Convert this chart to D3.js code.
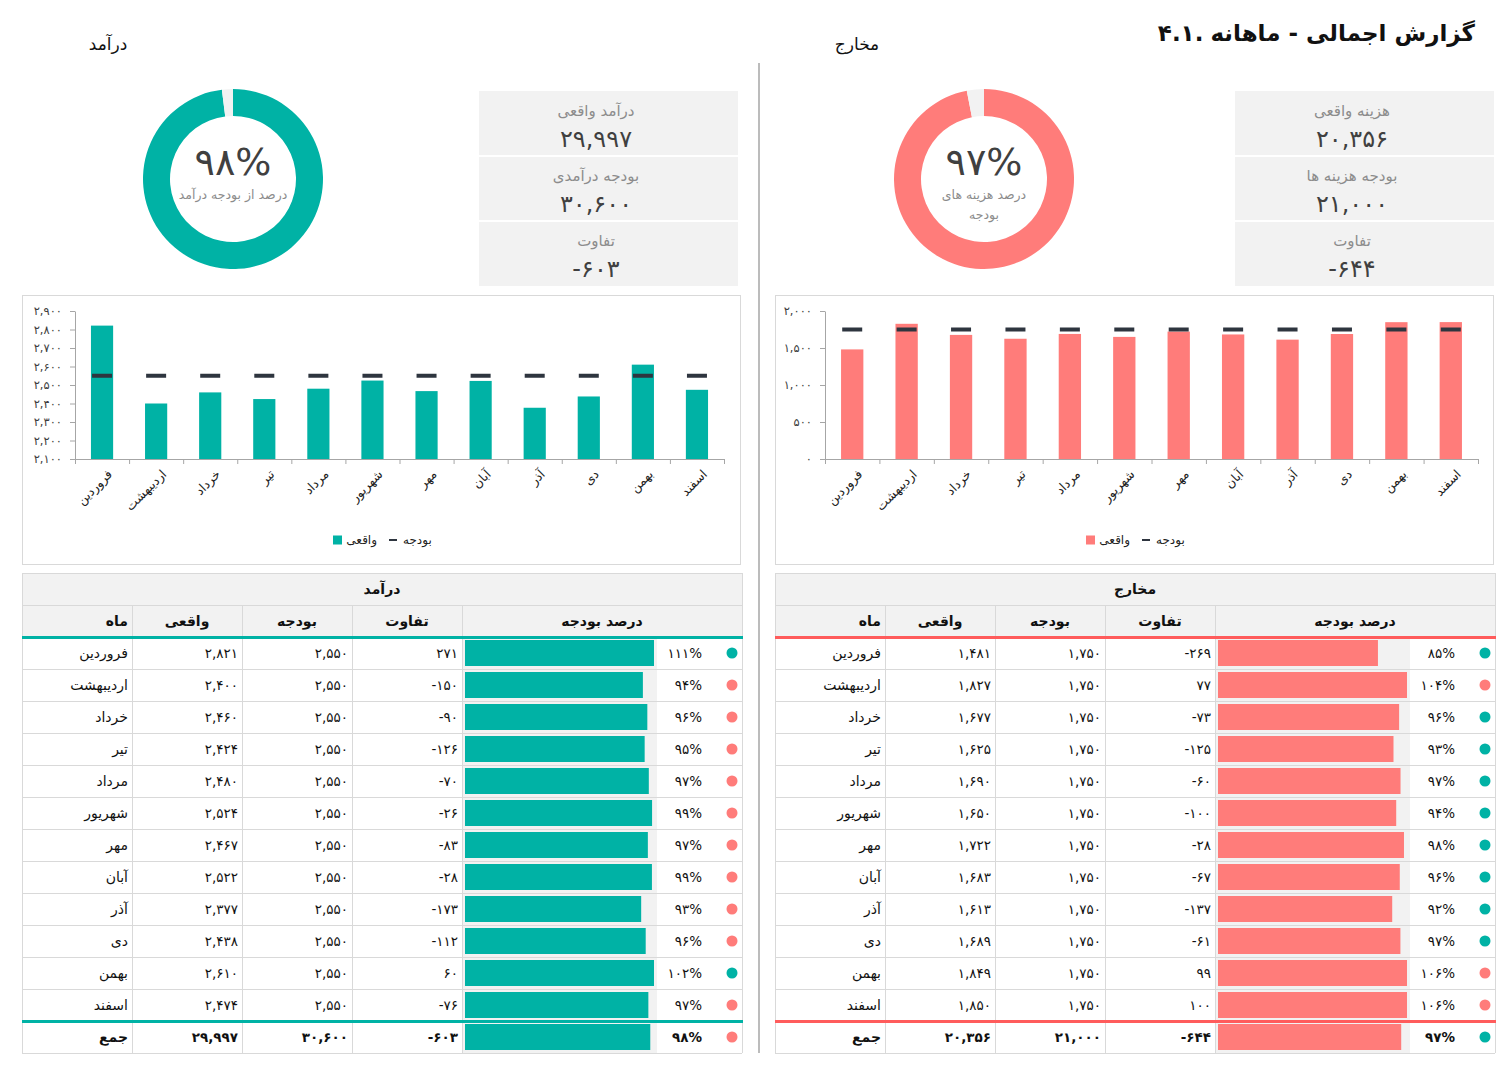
<!DOCTYPE html>
<html>
<head>
<meta charset="utf-8">
<script src="https://cdn.jsdelivr.net/npm/d3@7"></script>
<style>
  body { margin: 0; background: #fff; }
  svg { display: block; font-family: "DejaVu Sans", sans-serif; }
</style>
</head>
<body>
<svg id="dash" width="1510" height="1072"></svg>
<script>
// ---- data ----
const months = ["فروردین", "اردیبهشت", "خرداد", "تیر", "مرداد", "شهریور", "مهر", "آبان", "آذر", "دی", "بهمن", "اسفند"];
const incomeActual = [2821, 2400, 2460, 2424, 2480, 2524, 2467, 2522, 2377, 2438, 2610, 2474];
const incomeBudget = [2550, 2550, 2550, 2550, 2550, 2550, 2550, 2550, 2550, 2550, 2550, 2550];
const expenseActual = [1481, 1827, 1677, 1625, 1690, 1650, 1722, 1683, 1613, 1689, 1849, 1850];
const expenseBudget = [1750, 1750, 1750, 1750, 1750, 1750, 1750, 1750, 1750, 1750, 1750, 1750];
const incomeTicks = [2100, 2200, 2300, 2400, 2500, 2600, 2700, 2800, 2900];
const expenseTicks = [0, 500, 1000, 1500, 2000];

const titleText = "گزارش اجمالی - ماهانه";
const titleNum = "۴.۱.";
const colHeads = ["ماه", "واقعی", "بودجه", "تفاوت", "درصد بودجه"];

const TEAL = "#00b2a5", SALMON = "#ff7c7a", DARK = "#2e353f", GRID = "#d9d9d9", PANEL = "#f2f2f2";

const fa = s => String(s).replace(/[0-9]/g, d => "۰۱۲۳۴۵۶۷۸۹"[+d]);
const num = v => (v < 0 ? "-" : "") + fa(d3.format(",")(Math.abs(v)));
const pctTxt = p => fa(Math.round(p * 100)) + "%";

const panels = [
  { name: "درآمد", actual: incomeActual, budget: incomeBudget, color: TEAL, line: TEAL,
    ticks: incomeTicks, labelX: 108, donutX: 233, kpiX: 479, chartX: 22, plotL: 75, plotR: 724,
    tableX: 22, legendX: 333, good: p => p >= 1,
    kpiLabels: ["درآمد واقعی", "بودجه درآمدی", "تفاوت"], donutSub: ["درصد از بودجه درآمد"] },
  { name: "مخارج", actual: expenseActual, budget: expenseBudget, color: SALMON, line: "#ff5c5c",
    ticks: expenseTicks, labelX: 857, donutX: 984, kpiX: 1235, chartX: 775, plotL: 825, plotR: 1478,
    tableX: 775, legendX: 1086, good: p => p <= 1,
    kpiLabels: ["هزینه واقعی", "بودجه هزینه ها", "تفاوت"], donutSub: ["درصد هزینه های", "بودجه"] }
];

const svg = d3.select("#dash");

// ---- title ----
const title = svg.append("text")
  .attr("x", 1475).attr("y", 41)
  .attr("text-anchor", "end")
  .attr("font-size", 23).attr("font-weight", "bold").attr("fill", "#111")
  .text(titleText);
const tw = title.node().getComputedTextLength();
svg.append("text")
  .attr("x", 1475 - tw - 7).attr("y", 41)
  .attr("text-anchor", "end")
  .attr("font-size", 23).attr("font-weight", "bold").attr("fill", "#111")
  .text(titleNum);

// separator
svg.append("line")
  .attr("x1", 759).attr("x2", 759).attr("y1", 63).attr("y2", 1053)
  .attr("stroke", "#a6a6a6").attr("stroke-width", 1.5);

panels.forEach(p => {
  const totA = d3.sum(p.actual), totB = d3.sum(p.budget);
  const share = totA / totB;

  // section label
  svg.append("text")
    .attr("x", p.labelX).attr("y", 50).attr("text-anchor", "middle")
    .attr("font-size", 17).attr("fill", "#111")
    .text(p.name);

  // ---- donut ----
  const dg = svg.append("g").attr("transform", `translate(${p.donutX},179)`);
  const arc = d3.arc().innerRadius(63).outerRadius(90);
  const pie = d3.pie().sort(null).value(d => d);
  dg.selectAll("path")
    .data(pie([share, 1 - share]))
    .join("path")
      .attr("d", arc)
      .attr("fill", (d, i) => i ? PANEL : p.color);
  dg.append("text")
    .attr("y", -4).attr("text-anchor", "middle")
    .attr("font-size", 38).attr("fill", "#404040")
    .text(pctTxt(share));
  dg.selectAll("text.sub")
    .data(p.donutSub)
    .join("text")
      .attr("class", "sub")
      .attr("y", (d, i) => 20 + i * 20)
      .attr("text-anchor", "middle")
      .attr("font-size", 12.5).attr("fill", "#8c8c8c")
      .text(d => d);

  // ---- KPI box ----
  const kpiVals = [totA, totB, totA - totB];
  const kg = svg.append("g");
  kg.append("rect")
    .attr("x", p.kpiX).attr("y", 91).attr("width", 259).attr("height", 195)
    .attr("fill", PANEL);
  [156, 221].forEach(yy => kg.append("line")
    .attr("x1", p.kpiX).attr("x2", p.kpiX + 259).attr("y1", yy).attr("y2", yy)
    .attr("stroke", "#fff").attr("stroke-width", 2));
  const cx = p.kpiX + 117;
  p.kpiLabels.forEach((lab, i) => {
    const top = [91, 156, 221][i];
    kg.append("text")
      .attr("x", cx).attr("y", top + 25).attr("text-anchor", "middle")
      .attr("font-size", 15).attr("fill", "#8c8c8c")
      .text(lab);
    kg.append("text")
      .attr("x", cx).attr("y", top + 56).attr("text-anchor", "middle")
      .attr("font-size", 24).attr("fill", "#404040")
      .text(num(kpiVals[i]));
  });

  // ---- bar chart ----
  svg.append("rect")
    .attr("x", p.chartX + 0.5).attr("y", 295.5).attr("width", 718).attr("height", 269)
    .attr("fill", "none").attr("stroke", GRID);

  const x = d3.scaleBand().domain(months)
    .range([p.plotL, p.plotR]).paddingInner(0.59).paddingOuter(0.295);
  const y = d3.scaleLinear().domain(d3.extent(p.ticks)).range([459, 311]);
  const rows = months.map((m, i) => ({ m, a: p.actual[i], b: p.budget[i] }));

  const cg = svg.append("g");
  cg.selectAll("rect.bar")
    .data(rows)
    .join("rect")
      .attr("class", "bar")
      .attr("x", d => x(d.m))
      .attr("y", d => y(d.a))
      .attr("width", x.bandwidth())
      .attr("height", d => y.range()[0] - y(d.a))
      .attr("fill", p.color);
  cg.selectAll("rect.bud")
    .data(rows)
    .join("rect")
      .attr("class", "bud")
      .attr("x", d => x(d.m) + x.bandwidth() / 2 - 10)
      .attr("y", d => y(d.b) - 2)
      .attr("width", 20).attr("height", 4)
      .attr("fill", DARK);

  // y axis
  const ya = cg.append("g")
    .attr("transform", `translate(${p.plotL},0)`)
    .call(d3.axisLeft(y).tickValues(p.ticks).tickFormat(num).tickSize(5).tickSizeOuter(0).tickPadding(8));
  ya.selectAll("path, line").attr("stroke", "#a6a6a6");
  ya.selectAll("text").attr("font-size", 11.5).attr("fill", "#404040")
    .attr("font-family", "DejaVu Sans, sans-serif");

  // x axis: boundary ticks
  const xb = d3.scaleLinear().domain([0, 12]).range([p.plotL, p.plotR]);
  const xt = cg.append("g")
    .attr("transform", "translate(0,459)")
    .call(d3.axisBottom(xb).ticks(12).tickSize(5).tickSizeOuter(0).tickFormat(""));
  xt.selectAll("path, line").attr("stroke", "#a6a6a6");

  // x axis: month labels
  const xl = cg.append("g")
    .attr("transform", "translate(0,459)")
    .call(d3.axisBottom(x).tickSize(0).tickPadding(0));
  xl.select(".domain").remove();
  xl.selectAll("text")
    .attr("y", 0).attr("dy", 0)
    .attr("transform", "translate(11,16) rotate(-45)")
    .attr("text-anchor", "end")
    .attr("font-size", 12.5).attr("fill", "#222")
    .attr("font-family", "DejaVu Sans, sans-serif");

  // legend
  const lg = cg.append("g").attr("transform", `translate(${p.legendX},540)`);
  lg.append("rect").attr("x", 0).attr("y", -4.5).attr("width", 9).attr("height", 9).attr("fill", p.color);
  lg.append("text").attr("x", 44).attr("y", 4).attr("text-anchor", "end")
    .attr("font-size", 12).attr("fill", "#222").text("واقعی");
  lg.append("rect").attr("x", 56).attr("y", -1).attr("width", 8).attr("height", 2).attr("fill", DARK);
  lg.append("text").attr("x", 70).attr("y", 4).attr("text-anchor", "start")
    .attr("font-size", 12).attr("fill", "#222").text("بودجه");

  // ---- table ----
  const tx = p.tableX;
  const cols = [0, 110, 220, 330, 440, 720].map(v => tx + v);
  const rowTop = i => 637 + i * 32;
  const barW = d3.scaleLinear().domain([0, 1]).range([0, 189]).clamp(true);
  const tg = svg.append("g");

  tg.append("rect").attr("x", tx).attr("y", 573).attr("width", 720).attr("height", 64).attr("fill", PANEL);
  tg.append("rect").attr("x", cols[4]).attr("y", 637).attr("width", 195).attr("height", 416).attr("fill", PANEL);

  const tableRows = rows.map(d => ({ ...d, bold: false }))
    .concat([{ m: "جمع", a: totA, b: totB, bold: true }]);
  tableRows.forEach((d, i) => {
    const top = i < 12 ? rowTop(i) : 1021;
    const h = 32;
    const cyy = top + h / 2;
    const pc = d.a / d.b;
    const w = d.bold ? "bold" : "normal";
    const cells = [[cols[1] - 4, d.m], [cols[2] - 4, num(d.a)], [cols[3] - 4, num(d.b)], [cols[4] - 4, num(d.a - d.b)]];
    cells.forEach(([xx, t], j) => tg.append("text")
      .attr("x", xx).attr("y", cyy).attr("dy", "0.35em").attr("text-anchor", "end")
      .attr("font-size", j === 0 ? 14 : 13.5).attr("font-weight", w).attr("fill", "#111").text(t));
    tg.append("rect")
      .attr("x", cols[4] + 3).attr("y", top + 3)
      .attr("width", barW(pc)).attr("height", h - 6)
      .attr("fill", p.color);
    tg.append("text")
      .attr("x", tx + 680).attr("y", cyy).attr("dy", "0.35em").attr("text-anchor", "end")
      .attr("font-size", 13.5).attr("font-weight", w).attr("fill", "#111").text(pctTxt(pc));
    tg.append("circle")
      .attr("cx", tx + 710).attr("cy", cyy).attr("r", 5.5)
      .attr("fill", p.good(pc) ? TEAL : SALMON);
  });

  // grid
  const hLines = [573, 605].concat(d3.range(1, 12).map(rowTop), [1053]);
  hLines.forEach(yy => tg.append("line")
    .attr("x1", tx).attr("x2", tx + 720).attr("y1", yy + 0.5).attr("y2", yy + 0.5)
    .attr("stroke", GRID));
  [cols[0], cols[5]].forEach(xx => tg.append("line")
    .attr("x1", xx + 0.5).attr("x2", xx + 0.5).attr("y1", 573).attr("y2", 1053).attr("stroke", GRID));
  cols.slice(1, 5).forEach(xx => tg.append("line")
    .attr("x1", xx + 0.5).attr("x2", xx + 0.5).attr("y1", 605).attr("y2", 1053).attr("stroke", GRID));
  [637.5, 1021.5].forEach(yy => tg.append("line")
    .attr("x1", tx).attr("x2", tx + 721).attr("y1", yy).attr("y2", yy)
    .attr("stroke", p.line).attr("stroke-width", 3));

  // headers
  tg.append("text")
    .attr("x", tx + 360).attr("y", 589).attr("dy", "0.35em").attr("text-anchor", "middle")
    .attr("font-size", 14).attr("font-weight", "bold").attr("fill", "#111").text(p.name);
  const headX = [cols[1] - 4, tx + 165, tx + 275, tx + 385, tx + 580];
  colHeads.forEach((h, i) => tg.append("text")
    .attr("x", headX[i]).attr("y", 621).attr("dy", "0.35em")
    .attr("text-anchor", i === 0 ? "end" : "middle")
    .attr("font-size", 14).attr("font-weight", "bold").attr("fill", "#111").text(h));
});
</script>
</body>
</html>
